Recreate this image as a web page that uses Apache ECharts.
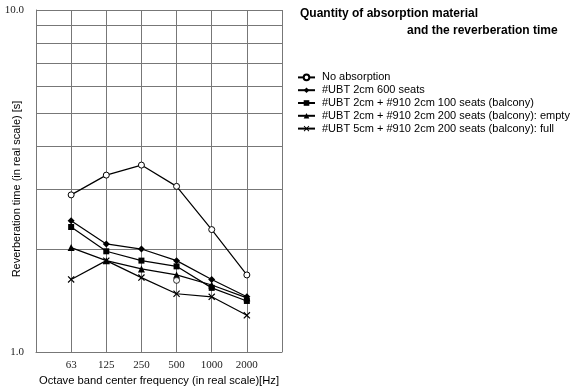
<!DOCTYPE html>
<html>
<head>
<meta charset="utf-8">
<script src="https://cdn.jsdelivr.net/npm/echarts@6/dist/echarts.min.js"></script>
<style>
html,body{margin:0;padding:0;background:#fff;}
#c{width:574px;height:390px;}
</style>
</head>
<body>
<div id="c"></div>
<script>
// ---- data ----
var freqs = ['63', '125', '250', '500', '1000', '2000'];
var seriesNames = [
  'No absorption',
  '#UBT 2cm 600 seats',
  '#UBT 2cm + #910 2cm 100 seats (balcony)',
  '#UBT 2cm + #910 2cm 200 seats (balcony): empty',
  '#UBT 5cm + #910 2cm 200 seats (balcony): full'
];
var noAbsorption = [2.88, 3.29, 3.52, 3.05, 2.28, 1.68];
var ubt600 = [2.42, 2.07, 2.00, 1.85, 1.63, 1.45];
var ubt100 = [2.32, 1.97, 1.85, 1.78, 1.54, 1.41];
var ubt200empty = [2.02, 1.85, 1.75, 1.68, 1.57, 1.44];
var ubt200full = [1.63, 1.85, 1.65, 1.48, 1.45, 1.28];
var strayPoint = { freq: '500', value: 1.62 }; // extra open circle at 500 Hz
var yGridValues = [2, 3, 4, 5, 6, 7, 8, 9];
var yMin = 1, yMax = 10;

// category slots: empty slot before and after the frequencies
var xCats = [''].concat(freqs).concat(['']);
function pad(arr) { return [null].concat(arr).concat([null]); }

var xPath = 'path://M0,1.2 L1.2,0 L5,3.8 L8.8,0 L10,1.2 L6.2,5 L10,8.8 L8.8,10 L5,6.2 L1.2,10 L0,8.8 L3.8,5 Z';
var symbols = [
  { symbol: 'circle', size: 6 },
  { symbol: 'diamond', size: 7 },
  { symbol: 'rect', size: 6 },
  { symbol: 'triangle', size: 7 },
  { symbol: xPath, size: 7 }
];
var allData = [noAbsorption, ubt600, ubt100, ubt200empty, ubt200full];

var series = allData.map(function (d, i) {
  return {
    name: seriesNames[i],
    type: 'line',
    data: pad(d),
    symbol: symbols[i].symbol,
    symbolSize: symbols[i].size,
    showAllSymbol: true,
    itemStyle: i === 0
      ? { color: '#fff', borderColor: '#000', borderWidth: 1 }
      : { color: '#000' },
    lineStyle: { color: '#000', width: 1.2, type: 'solid' },
    emphasis: { disabled: true },
    animation: false,
    z: 5
  };
});
// stray open circle
series.push({
  type: 'scatter',
  data: [[strayPoint.freq, strayPoint.value]],
  symbol: 'circle',
  symbolSize: 6,
  itemStyle: { color: '#fff', borderColor: '#000', borderWidth: 1 },
  animation: false,
  z: 6
});
// horizontal grid lines at 2..9
series.push({
  type: 'line',
  data: [],
  silent: true,
  markLine: {
    silent: true,
    symbol: ['none', 'none'],
    label: { show: false },
    lineStyle: { color: '#777', width: 1, type: 'solid' },
    data: yGridValues.map(function (v) { return { yAxis: v }; }),
    animation: false
  }
});

var chart = echarts.init(document.getElementById('c'));
chart.setOption({
  animation: false,
  backgroundColor: '#fff',
  grid: { left: 36, right: 292, top: 10, bottom: 38, outerBoundsMode: 'none', containLabel: false },
  title: [
    { text: 'Quantity of absorption material', left: 300, top: 8, padding: 0,
      textStyle: { fontFamily: 'Arial, Liberation Sans', fontSize: 12, fontWeight: 'bold', color: '#000' } },
    { text: 'and the reverberation time', left: 407, top: 25, padding: 0,
      textStyle: { fontFamily: 'Arial, Liberation Sans', fontSize: 12, fontWeight: 'bold', color: '#000' } }
  ],
  legend: {
    orient: 'vertical',
    left: 297,
    top: 71,
    padding: 0,
    itemWidth: 17,
    itemHeight: 7,
    itemGap: 0,
    data: seriesNames,
    textStyle: { fontFamily: 'Arial, Liberation Sans', fontSize: 11, color: '#000', lineHeight: 12.8, padding: [0, 0, 0, 2] }
  },
  xAxis: {
    type: 'category',
    data: xCats,
    boundaryGap: false,
    name: 'Octave band center frequency (in real scale)[Hz]',
    nameLocation: 'middle',
    nameGap: 22,
    nameTextStyle: { fontFamily: 'Arial, Liberation Sans', fontSize: 11.2, color: '#000' },
    axisLine: { show: true, lineStyle: { color: '#777', width: 1 } },
    axisTick: { show: false },
    axisLabel: { interval: 0, margin: 8, fontFamily: 'Liberation Serif', fontSize: 11, color: '#222' },
    splitLine: { show: true, interval: 0, lineStyle: { color: '#777', width: 1 } }
  },
  yAxis: {
    type: 'log',
    logBase: 10,
    min: yMin,
    max: yMax,
    name: 'Reverberation time (in real scale) [s]',
    nameLocation: 'middle',
    nameGap: 14,
    nameMoveOverlap: false,
    nameTextStyle: { fontFamily: 'Arial, Liberation Sans', fontSize: 11, color: '#000', padding: [0, 16, 0, 0] },
    axisLine: { show: true, lineStyle: { color: '#777', width: 1 } },
    axisTick: { show: false },
    axisLabel: { margin: 12, fontFamily: 'Liberation Serif', fontSize: 11, color: '#222',
      formatter: function (v) { return v.toFixed(1); } },
    splitLine: { show: true, lineStyle: { color: '#777', width: 1 } }
  },
  series: series
});
</script>
</body>
</html>
